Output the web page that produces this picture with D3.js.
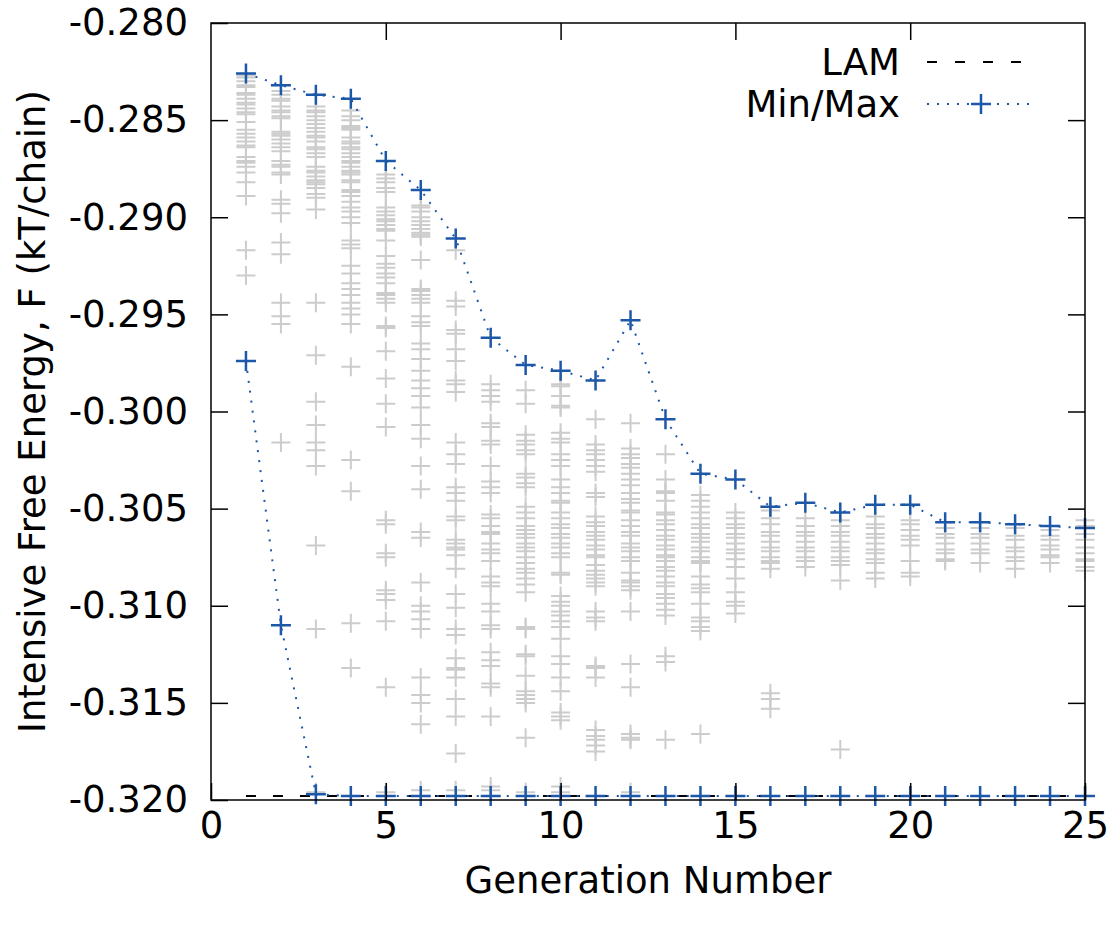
<!DOCTYPE html>
<html>
<head>
<meta charset="utf-8">
<script src="https://cdn.jsdelivr.net/npm/d3@7"></script>
<style>
  body { margin: 0; background: #fff; }
  text { font-family: "DejaVu Sans", sans-serif; fill: #000; }
</style>
</head>
<body>
<svg id="chart" width="1117" height="927"></svg>
<script>
var generations = [1, 2, 3, 4, 5, 6, 7, 8, 9, 10, 11, 12, 13, 14, 15, 16, 17, 18, 19, 20, 21, 22, 23, 24, 25];

var maxF = [-0.2826, -0.2832, -0.2837, -0.2839, -0.2871, -0.2886, -0.2911, -0.2962, -0.2976, -0.2979,
    -0.2984, -0.2953, -0.3004, -0.3032, -0.3035, -0.3049, -0.3047, -0.3052, -0.3048, -0.3048,
    -0.3057, -0.3057, -0.3058, -0.3059, -0.3060];

var minF = [-0.2974, -0.3110, -0.3197, -0.3198, -0.3198, -0.3198, -0.3198, -0.3198, -0.3198, -0.3198,
    -0.3198, -0.3198, -0.3198, -0.3198, -0.3198, -0.3198, -0.3198, -0.3198, -0.3198, -0.3198,
    -0.3198, -0.3198, -0.3198, -0.3198, -0.3198];

var lamF = -0.3198;

var xTicks = [0, 5, 10, 15, 20, 25];
var yTicks = [-0.280, -0.285, -0.290, -0.295, -0.300, -0.305, -0.310, -0.315, -0.320];

// every candidate of each generation (grey crosses), generation 1 first
var popF = [
    [-0.2827, -0.2828, -0.2830, -0.2832, -0.2833, -0.2836, -0.2837, -0.2839, -0.2841, -0.2842, -0.2844, -0.2846, -0.2847, -0.2851, -0.2855, -0.2857, -0.2859, -0.2861, -0.2863, -0.2864, -0.2869, -0.2871, -0.2872, -0.2874, -0.2877, -0.2882, -0.2889, -0.2917, -0.2930],
    [-0.2835, -0.2837, -0.2839, -0.2840, -0.2843, -0.2845, -0.2846, -0.2848, -0.2849, -0.2856, -0.2857, -0.2858, -0.2860, -0.2862, -0.2864, -0.2866, -0.2871, -0.2873, -0.2874, -0.2877, -0.2878, -0.2891, -0.2893, -0.2898, -0.2913, -0.2919, -0.2944, -0.2951, -0.2955, -0.3016],
    [-0.2843, -0.2845, -0.2846, -0.2848, -0.2850, -0.2852, -0.2854, -0.2856, -0.2858, -0.2859, -0.2861, -0.2864, -0.2865, -0.2867, -0.2869, -0.2874, -0.2876, -0.2877, -0.2879, -0.2881, -0.2882, -0.2883, -0.2885, -0.2888, -0.2890, -0.2896, -0.2944, -0.2971, -0.2995, -0.3007, -0.3016, -0.3020, -0.3028, -0.3069, -0.3112, -0.3196],
    [-0.2845, -0.2848, -0.2850, -0.2853, -0.2854, -0.2855, -0.2859, -0.2861, -0.2862, -0.2864, -0.2865, -0.2867, -0.2869, -0.2871, -0.2872, -0.2874, -0.2876, -0.2877, -0.2878, -0.2881, -0.2882, -0.2886, -0.2887, -0.2889, -0.2892, -0.2895, -0.2897, -0.2900, -0.2903, -0.2912, -0.2914, -0.2916, -0.2925, -0.2929, -0.2934, -0.2937, -0.2940, -0.2944, -0.2947, -0.2950, -0.2955, -0.2977, -0.3025, -0.3041, -0.3109, -0.3132],
    [-0.2878, -0.2880, -0.2882, -0.2885, -0.2887, -0.2895, -0.2897, -0.2899, -0.2901, -0.2902, -0.2904, -0.2906, -0.2907, -0.2912, -0.2920, -0.2924, -0.2926, -0.2929, -0.2931, -0.2934, -0.2939, -0.2940, -0.2942, -0.2944, -0.2956, -0.2957, -0.2969, -0.2983, -0.2996, -0.3008, -0.3056, -0.3058, -0.3073, -0.3075, -0.3092, -0.3094, -0.3097, -0.3108, -0.3142, -0.3196],
    [-0.2894, -0.2895, -0.2897, -0.2900, -0.2902, -0.2904, -0.2906, -0.2908, -0.2909, -0.2910, -0.2922, -0.2937, -0.2938, -0.2940, -0.2942, -0.2944, -0.2951, -0.2954, -0.2956, -0.2965, -0.2968, -0.2973, -0.2979, -0.2984, -0.2988, -0.2992, -0.2998, -0.3007, -0.3014, -0.3028, -0.3040, -0.3062, -0.3065, -0.3088, -0.3100, -0.3103, -0.3107, -0.3112, -0.3137, -0.3146, -0.3150, -0.3161, -0.3195],
    [-0.2917, -0.2943, -0.2946, -0.2958, -0.2960, -0.2968, -0.2974, -0.2984, -0.2986, -0.2990, -0.3016, -0.3022, -0.3027, -0.3039, -0.3042, -0.3046, -0.3054, -0.3056, -0.3066, -0.3068, -0.3070, -0.3071, -0.3074, -0.3081, -0.3094, -0.3101, -0.3112, -0.3115, -0.3127, -0.3132, -0.3133, -0.3137, -0.3148, -0.3157, -0.3176, -0.3195],
    [-0.2986, -0.2989, -0.2992, -0.2995, -0.3006, -0.3008, -0.3015, -0.3017, -0.3028, -0.3036, -0.3039, -0.3042, -0.3053, -0.3055, -0.3059, -0.3062, -0.3063, -0.3068, -0.3071, -0.3073, -0.3077, -0.3085, -0.3088, -0.3090, -0.3099, -0.3103, -0.3110, -0.3112, -0.3124, -0.3128, -0.3131, -0.3140, -0.3142, -0.3157, -0.3193, -0.3195],
    [-0.2989, -0.2996, -0.3012, -0.3015, -0.3017, -0.3020, -0.3022, -0.3032, -0.3034, -0.3037, -0.3039, -0.3049, -0.3052, -0.3055, -0.3059, -0.3061, -0.3063, -0.3065, -0.3068, -0.3070, -0.3072, -0.3075, -0.3078, -0.3081, -0.3083, -0.3086, -0.3089, -0.3093, -0.3111, -0.3112, -0.3125, -0.3126, -0.3136, -0.3144, -0.3146, -0.3148, -0.3150, -0.3168, -0.3196],
    [-0.2986, -0.2987, -0.2992, -0.2997, -0.2998, -0.3011, -0.3014, -0.3016, -0.3022, -0.3025, -0.3028, -0.3035, -0.3039, -0.3042, -0.3046, -0.3047, -0.3052, -0.3055, -0.3058, -0.3060, -0.3063, -0.3065, -0.3068, -0.3070, -0.3073, -0.3075, -0.3083, -0.3084, -0.3095, -0.3098, -0.3100, -0.3103, -0.3105, -0.3108, -0.3111, -0.3117, -0.3126, -0.3130, -0.3137, -0.3144, -0.3155, -0.3157, -0.3159, -0.3193, -0.3196],
    [-0.3004, -0.3017, -0.3020, -0.3022, -0.3025, -0.3028, -0.3031, -0.3042, -0.3044, -0.3054, -0.3057, -0.3059, -0.3062, -0.3064, -0.3066, -0.3069, -0.3071, -0.3074, -0.3075, -0.3079, -0.3082, -0.3084, -0.3086, -0.3088, -0.3090, -0.3103, -0.3106, -0.3108, -0.3131, -0.3132, -0.3137, -0.3164, -0.3167, -0.3169, -0.3172, -0.3175],
    [-0.3006, -0.3019, -0.3022, -0.3024, -0.3027, -0.3029, -0.3032, -0.3035, -0.3038, -0.3042, -0.3045, -0.3047, -0.3051, -0.3052, -0.3056, -0.3059, -0.3062, -0.3064, -0.3068, -0.3070, -0.3072, -0.3075, -0.3077, -0.3083, -0.3087, -0.3088, -0.3090, -0.3092, -0.3103, -0.3130, -0.3142, -0.3166, -0.3168, -0.3169, -0.3196],
    [-0.3022, -0.3035, -0.3041, -0.3042, -0.3046, -0.3052, -0.3053, -0.3056, -0.3058, -0.3061, -0.3064, -0.3066, -0.3069, -0.3071, -0.3074, -0.3075, -0.3077, -0.3080, -0.3082, -0.3085, -0.3088, -0.3090, -0.3094, -0.3096, -0.3099, -0.3102, -0.3105, -0.3126, -0.3129, -0.3169],
    [-0.3043, -0.3046, -0.3049, -0.3052, -0.3055, -0.3058, -0.3060, -0.3063, -0.3065, -0.3067, -0.3070, -0.3072, -0.3075, -0.3077, -0.3078, -0.3085, -0.3089, -0.3091, -0.3093, -0.3099, -0.3106, -0.3108, -0.3111, -0.3113, -0.3166],
    [-0.3052, -0.3055, -0.3058, -0.3060, -0.3063, -0.3065, -0.3068, -0.3071, -0.3073, -0.3076, -0.3080, -0.3086, -0.3093, -0.3098, -0.3100, -0.3104],
    [-0.3051, -0.3055, -0.3058, -0.3062, -0.3064, -0.3067, -0.3070, -0.3072, -0.3075, -0.3077, -0.3078, -0.3081, -0.3145, -0.3148, -0.3153],
    [-0.3055, -0.3059, -0.3062, -0.3064, -0.3067, -0.3070, -0.3072, -0.3075, -0.3077, -0.3080],
    [-0.3056, -0.3059, -0.3062, -0.3064, -0.3067, -0.3070, -0.3072, -0.3075, -0.3077, -0.3079, -0.3087, -0.3174],
    [-0.3054, -0.3058, -0.3060, -0.3063, -0.3065, -0.3068, -0.3071, -0.3073, -0.3076, -0.3078, -0.3083, -0.3086],
    [-0.3056, -0.3058, -0.3061, -0.3064, -0.3066, -0.3069, -0.3077, -0.3083, -0.3085],
    [-0.3060, -0.3063, -0.3065, -0.3068, -0.3071, -0.3073, -0.3076, -0.3077],
    [-0.3060, -0.3063, -0.3065, -0.3068, -0.3071, -0.3073, -0.3078],
    [-0.3060, -0.3064, -0.3066, -0.3070, -0.3072, -0.3075, -0.3077, -0.3081],
    [-0.3061, -0.3064, -0.3066, -0.3069, -0.3071, -0.3074, -0.3075, -0.3078],
    [-0.3056, -0.3059, -0.3063, -0.3066, -0.3070, -0.3073, -0.3076, -0.3077, -0.3080, -0.3082]
];

var blue = '#1d57a8';
var grey = '#cccccc';

var plotLeft = 211, plotRight = 1085, plotTop = 23, plotBottom = 800;

var svg = d3.select('#chart');

var x = d3.scaleLinear().domain([0, 25]).range([plotLeft, plotRight]);
var y = d3.scaleLinear().domain([-0.320, -0.280]).range([plotBottom, plotTop]);

var plusPath = function(r) { return 'M' + (-r) + ',0H' + r + 'M0,' + (-r) + 'V' + r; };

// flatten population for drawing
var popPoints = [];
popF.forEach(function(vals, i) {
    vals.forEach(function(v) { popPoints.push({ g: generations[i], f: v }); });
});

// LAM reference line
svg.append('line')
    .attr('x1', x(generations[0]))
    .attr('x2', x(generations[generations.length - 1]))
    .attr('y1', y(lamF))
    .attr('y2', y(lamF))
    .attr('stroke', '#000')
    .attr('stroke-width', 2)
    .attr('stroke-dasharray', '10 17');

// grey population crosses
svg.append('g').selectAll('path')
    .data(popPoints)
    .enter()
    .append('path')
    .attr('d', plusPath(9.5))
    .attr('transform', function(d) { return 'translate(' + x(d.g) + ',' + y(d.f) + ')'; })
    .attr('stroke', grey)
    .attr('stroke-width', 2)
    .attr('fill', 'none');

// min / max dotted lines
var line = d3.line()
    .x(function(d) { return x(d.g); })
    .y(function(d) { return y(d.f); });

[maxF, minF].forEach(function(series) {
    var pts = series.map(function(v, i) { return { g: generations[i], f: v }; });

    svg.append('path')
        .datum(pts)
        .attr('d', line)
        .attr('fill', 'none')
        .attr('stroke', blue)
        .attr('stroke-width', 2)
        .attr('stroke-dasharray', '2 8');

    svg.append('g').selectAll('path')
        .data(pts)
        .enter()
        .append('path')
        .attr('d', plusPath(10))
        .attr('transform', function(d) { return 'translate(' + x(d.g) + ',' + y(d.f) + ')'; })
        .attr('stroke', blue)
        .attr('stroke-width', 2.5)
        .attr('fill', 'none');
});

// axes, ticks pointing inward and mirrored
var fmtY = function(d) { return d.toFixed(3); };

var xAxis = svg.append('g')
    .attr('transform', 'translate(0,' + plotBottom + ')')
    .call(d3.axisBottom(x).tickValues(xTicks).tickSizeInner(-17).tickSizeOuter(0).tickPadding(12));

var yAxis = svg.append('g')
    .attr('transform', 'translate(' + plotLeft + ',0)')
    .call(d3.axisLeft(y).tickValues(yTicks).tickFormat(fmtY).tickSizeInner(-17).tickSizeOuter(0).tickPadding(23));

svg.append('g')
    .attr('transform', 'translate(0,' + plotTop + ')')
    .call(d3.axisTop(x).tickValues(xTicks.slice(1, -1)).tickSizeInner(-17).tickSizeOuter(0).tickFormat(''));

svg.append('g')
    .attr('transform', 'translate(' + plotRight + ',0)')
    .call(d3.axisRight(y).tickValues(yTicks.slice(1, -1)).tickSizeInner(-17).tickSizeOuter(0).tickFormat(''));

svg.selectAll('.domain').remove();
svg.selectAll('.tick line').attr('stroke', '#000').attr('stroke-width', 1.5);
xAxis.selectAll('text').style('font-size', '37px').attr('fill', '#000');
yAxis.selectAll('text').style('font-size', '37px').attr('fill', '#000');

svg.append('rect')
    .attr('x', plotLeft)
    .attr('y', plotTop)
    .attr('width', plotRight - plotLeft)
    .attr('height', plotBottom - plotTop)
    .attr('fill', 'none')
    .attr('stroke', '#000')
    .attr('stroke-width', 1.5);

// axis titles
svg.append('text')
    .attr('x', (plotLeft + plotRight) / 2)
    .attr('y', 893)
    .attr('text-anchor', 'middle')
    .style('font-size', '37px')
    .text('Generation Number');

svg.append('text')
    .attr('transform', 'translate(45,' + (plotTop + plotBottom) / 2 + ') rotate(-90)')
    .attr('text-anchor', 'middle')
    .style('font-size', '37px')
    .text('Intensive Free Energy, F (kT/chain)');

// legend
var legend = svg.append('g');

legend.append('text')
    .attr('x', 900).attr('y', 75)
    .attr('text-anchor', 'end')
    .style('font-size', '37px')
    .text('LAM');

legend.append('line')
    .attr('x1', 927).attr('x2', 1035)
    .attr('y1', 62).attr('y2', 62)
    .attr('stroke', '#000')
    .attr('stroke-width', 2)
    .attr('stroke-dasharray', '10 18');

legend.append('text')
    .attr('x', 900).attr('y', 117)
    .attr('text-anchor', 'end')
    .style('font-size', '37px')
    .text('Min/Max');

legend.append('line')
    .attr('x1', 927).attr('x2', 1035)
    .attr('y1', 104).attr('y2', 104)
    .attr('stroke', blue)
    .attr('stroke-width', 2)
    .attr('stroke-dasharray', '2 8');

legend.append('path')
    .attr('d', plusPath(10))
    .attr('transform', 'translate(981,104)')
    .attr('stroke', blue)
    .attr('stroke-width', 2.5)
    .attr('fill', 'none');
</script>
</body>
</html>
